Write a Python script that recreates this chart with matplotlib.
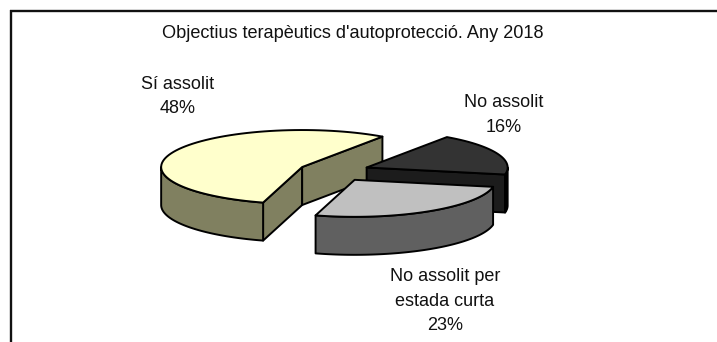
import numpy as np
import matplotlib
matplotlib.use('Agg')
import matplotlib.pyplot as plt
from matplotlib.patches import Polygon

title = "Objectius terapèutics d'autoprotecció. Any 2018"
# clockwise from the start angle, the pie closes on these three only
labels = ['No assolit', 'No assolit per\nestada curta', 'Sí assolit']
values = [16, 23, 48]
explode = [0.25, 0.28, 0.25]
top_colors = ['#333333', '#C0C0C0', '#FFFFCC']
cut_colors = ['#1C1C1C', '#606060', '#808060']
rim_colors = ['#000000', '#606060', '#808060']
label_pos = [(504, 115), (445, 301), (178, 96.5)]
draw_z = [3, 5, 2]

plt.rcParams['font.family'] = ['Liberation Sans', 'DejaVu Sans']
fig = plt.figure(figsize=(7.17, 3.42), dpi=100)
ax = fig.add_axes([0, 0, 1, 1])
ax.set_xlim(0, 717)
ax.set_ylim(342, 0)
ax.axis('off')

cx, cy = 334, 171
a, b = 141, 37
depth = 38
start = 55.3
lw = 1.4


def arc(x0, y0, t0, t1):
    t = np.radians(np.linspace(t0, t1, 80))
    return np.column_stack([x0 + a * np.cos(t), y0 - b * np.sin(t)])


def shape(pts, color, z):
    ax.add_patch(Polygon(pts, closed=True, facecolor=color, edgecolor='black',
                         linewidth=lw, joinstyle='round', zorder=z))


def cut_face(x0, y0, t, color, z):
    p = arc(x0, y0, t, t)[0]
    shape([(x0, y0), p, (p[0], p[1] + depth), (x0, y0 + depth)], color, z)


ax.plot([10, 717], [10.5, 10.5], color='#111111', lw=1.7, solid_capstyle='butt')
ax.plot([10.5, 10.5], [10, 342], color='#111111', lw=1.7, solid_capstyle='butt')

total = sum(values)
t0 = start
for i in range(len(values)):
    t1 = t0 - values[i] / total * 360
    mid = np.radians((t0 + t1) / 2)
    x0 = cx + explode[i] * a * np.cos(mid)
    y0 = cy - explode[i] * b * np.sin(mid)
    z = draw_z[i]
    # only the cut faces turned to the viewer
    if np.cos(np.radians(t0)) < 0:
        cut_face(x0, y0, t0, cut_colors[i], z)
    if np.cos(np.radians(t1)) > 0:
        cut_face(x0, y0, t1, cut_colors[i], z)
    # outer rim, front half of the ellipse
    r0 = min(t0, 0)
    r1 = max(t1, -180)
    if r0 > r1:
        top = arc(x0, y0, r0, r1)
        bottom = top[::-1] + [0, depth]
        shape(np.vstack([top, bottom]), rim_colors[i], z)
    shape(np.vstack([[(x0, y0)], arc(x0, y0, t0, t1)]), top_colors[i], z + 0.5)
    txt = labels[i] + '\n' + str(values[i]) + '%'
    ax.text(label_pos[i][0], label_pos[i][1], txt, ha='center', va='center',
            fontsize=13, color='#111111', linespacing=1.57, zorder=10)
    t0 = t1

ax.text(353, 33, title, ha='center', va='center', fontsize=13.1, color='#111111')

fig.savefig('out.png', dpi=100)
